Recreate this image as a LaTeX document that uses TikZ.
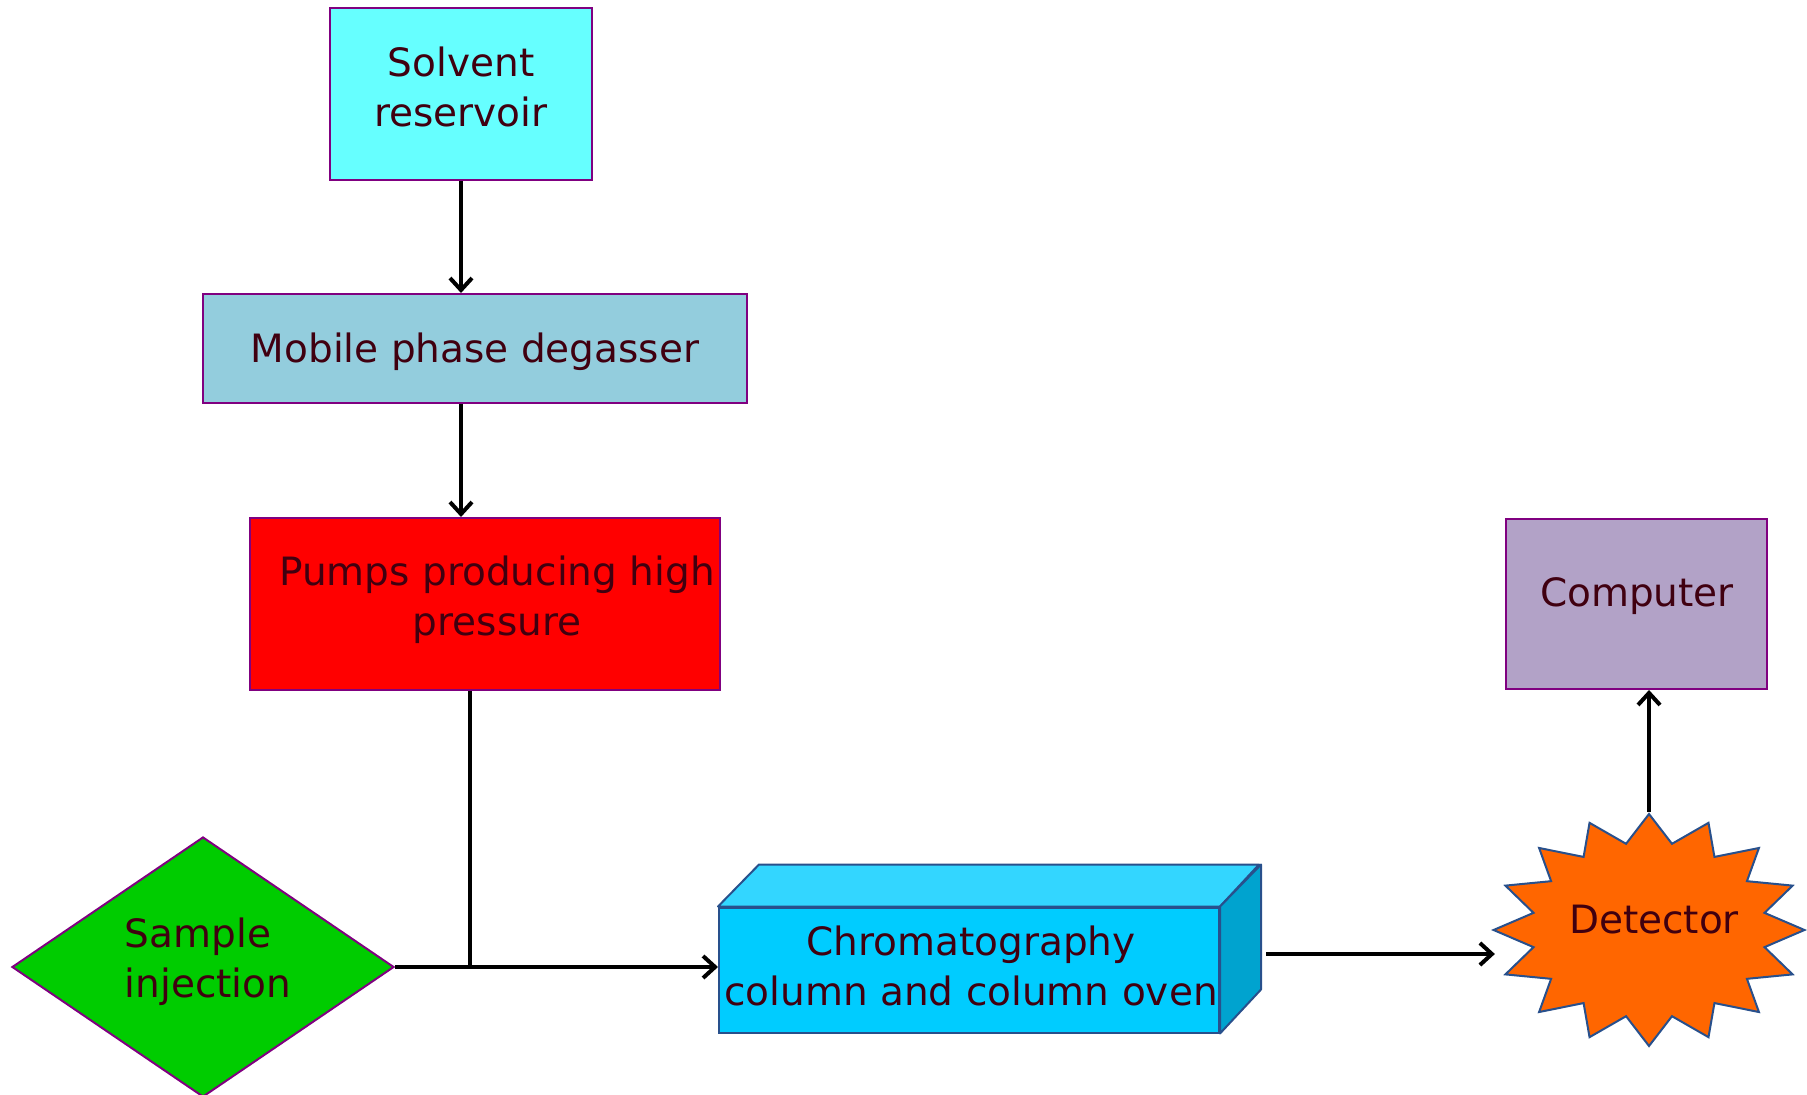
\documentclass[tikz,border=0pt]{standalone}
\usepackage{fontspec}
\setmainfont{DejaVu Sans}
\usepackage{xcolor}
\usepackage{tikz}
\usetikzlibrary{arrows.meta,shapes.geometric}

\definecolor{txtcol}{RGB}{64,0,16}
\definecolor{boxline}{RGB}{128,0,128}
\definecolor{colline}{RGB}{40,80,140}
\definecolor{solventfill}{RGB}{102,255,255}
\definecolor{degasfill}{RGB}{147,205,221}
\definecolor{computerfill}{RGB}{178,162,199}
\definecolor{colfront}{RGB}{0,204,255}
\definecolor{coltop}{RGB}{51,214,255}
\definecolor{colside}{RGB}{0,163,207}
\definecolor{detectorfill}{RGB}{255,102,0}

\begin{document}
\begin{tikzpicture}[x=0.5pt,y=-0.5pt,->,>={Straight Barb[length=6pt,width=11pt]},
    every node/.style={font=\fontsize{19.5}{25}\selectfont,text=txtcol}]

    \useasboundingbox (0,0) rectangle (1807,1095);

    \node[rectangle,
          draw = boxline,
          line width = 1pt,
          fill = solventfill,
          minimum width = 131pt,
          minimum height = 86pt
          ] (solvent) at (461,94) {};
    \node[align=center] at (461,87) {Solvent\\reservoir};

    \node[rectangle,
          draw = boxline,
          line width = 1pt,
          fill = degasfill,
          minimum width = 272pt,
          minimum height = 54.5pt
          ] (degasser) at (475,348.5) {};
    \node[] at (475,352) {Mobile phase degasser};

    \node[rectangle,
          draw = boxline,
          line width = 1pt,
          fill = red,
          minimum width = 235pt,
          minimum height = 86pt
          ] (pumps) at (485,604) {};
    \node[align=center] at (497,600) {Pumps producing high\\pressure};

    \node[diamond,
          draw = boxline,
          line width = 1pt,
          fill = green!80!black,
          inner sep = 0pt,
          minimum width = 191pt,
          minimum height = 130pt
          ] (inject) at (203,967) {};
    \node[align=left] at (208,962) {Sample\\injection};

    \node[rectangle,
          draw = colline,
          line width = 1pt,
          fill = colfront,
          minimum width = 250pt,
          minimum height = 62.5pt
          ] (column) at (969,970) {};
    % top and side of the column box
    \draw[-,draw=colline,line width=1pt,fill=coltop,line join=round]
      (column.north west) -- ++(41,-42) -- ++(500,0) -- (column.north east) -- cycle;
    \draw[-,draw=colline,line width=1pt,fill=colside,line join=round]
      (column.north east) -- ++(41,-42) -- ++(0,125) -- (column.south east) -- cycle;
    \node[align=center] at (971,966) {Chromatography\\column and column oven};

    \node[rectangle,
          draw = boxline,
          line width = 1pt,
          fill = computerfill,
          minimum width = 130.5pt,
          minimum height = 85pt
          ] (computer) at (1636.5,604) {};
    \node[] at (1637,596) {Computer};

    \node[star,
          star points = 16,
          star point ratio = 1.32,
          draw = colline,
          line width = 1pt,
          fill = detectorfill,
          inner sep = 0pt,
          minimum size = 116pt,
          xscale = 1.34,
          transform shape
          ] (detector) at (1649,930) {};
    \node[] at (1654,920) {Detector};

    \coordinate (colout) at (1266,954);

    \path[line width=2pt]
    %flow path
    (solvent.south) edge [] (solvent.south |- degasser.north)
    (solvent.south |- degasser.south) edge [] (solvent.south |- pumps.north)
    ([xshift=-7.5pt]pumps.south) edge [-] ([xshift=-7.5pt]pumps.south |- inject.east)
    (inject.east) edge [] (column.west |- inject.east)
    (colout) edge [] ([xshift=2pt]detector.west |- colout)
    (detector.north) edge [] (computer.south -| detector.north);

\end{tikzpicture}
\end{document}
